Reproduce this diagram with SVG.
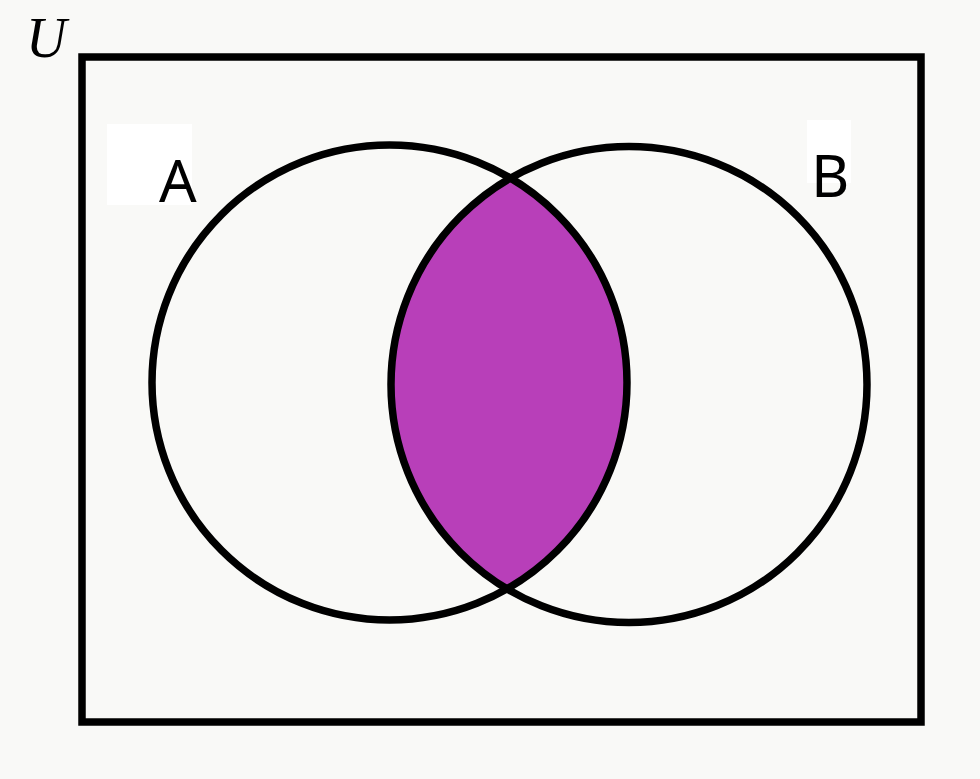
<svg xmlns="http://www.w3.org/2000/svg" width="980" height="779" viewBox="0 0 980 779">
<style>
.outline{fill:none;stroke:#000;stroke-width:7.5}
.lbl{font-family:"Noto Sans","Open Sans",sans-serif;font-size:59px;fill:#000}
.bg{fill:#fff}
</style>
<rect x="0" y="0" width="980" height="779" fill="#f9f9f7"/>
<g id="universe">
<rect x="82" y="57" width="839" height="665" class="outline" stroke-width="6"/>
<text x="26" y="57" font-family="Liberation Serif, serif" font-style="italic" font-size="56">U</text>
</g>
<g id="intersection">
<path d="M510.5 178.1 A237.5 237.5 0 0 1 507 588.9 A238 238 0 0 1 510.5 178.1 Z" fill="#b83fb9"/>
</g>
<g id="setA">
<rect x="107" y="124" width="85" height="81" class="bg"/>
<circle cx="389.5" cy="382.5" r="237.5" class="outline"/>
<text x="159" y="202" class="lbl">A</text>
</g>
<g id="setB">
<rect x="807" y="120" width="44" height="63" class="bg"/>
<circle cx="629" cy="384.5" r="238" class="outline"/>
<text x="811" y="197" class="lbl">B</text>
</g>
</svg>
